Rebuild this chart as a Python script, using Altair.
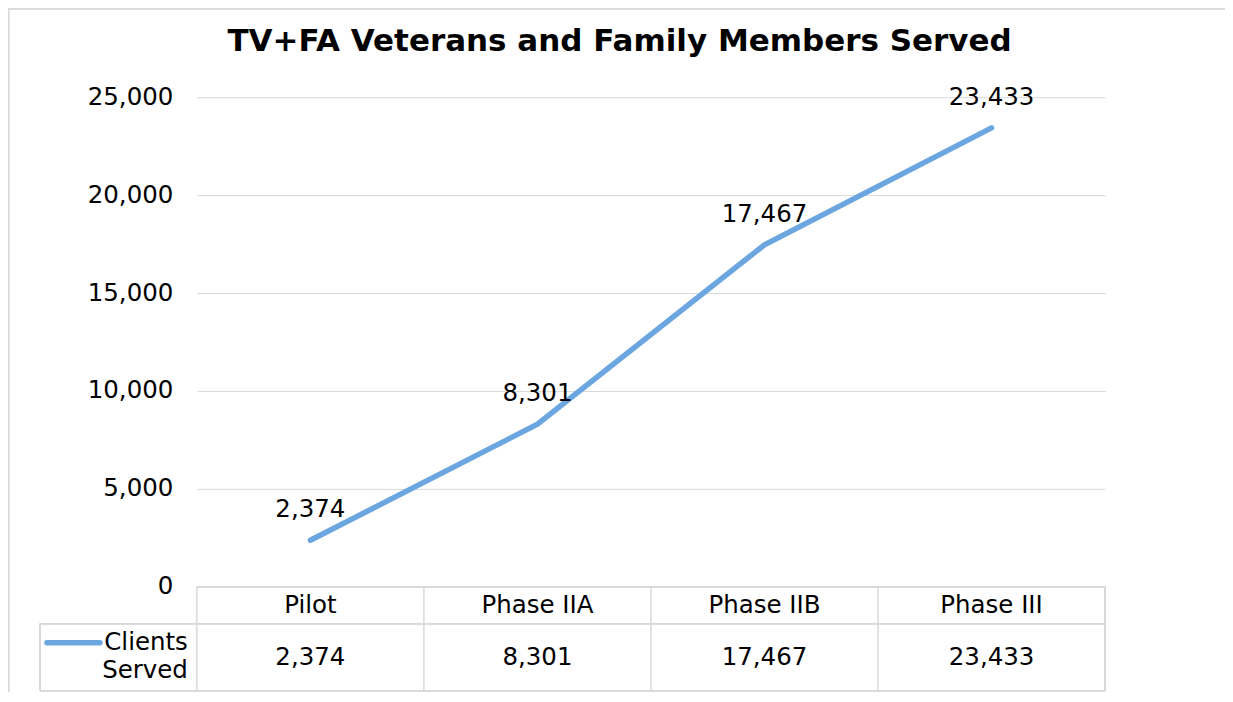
import altair as alt
import pandas as pd

phases = ["Pilot", "Phase IIA", "Phase IIB", "Phase III"]
clients = [2374, 8301, 17467, 23433]
series_name = "Clients Served"
title_text = "TV+FA Veterans and Family Members Served"

df = pd.DataFrame({"phase": phases, "clients": clients})
df["label"] = df["clients"].map(lambda v: f"{v:,}")

FONT = "DejaVu Sans"
FS = 24.5
LINE = "#6ca6e0"
GRID = "#d9d9d9"
W, H = 909, 490

xenc = alt.X("phase:N", sort=phases, axis=None,
             scale=alt.Scale(type="band", paddingInner=0, paddingOuter=0))
yscale = alt.Scale(domain=[0, 25000], nice=False)

base = alt.Chart(df)

line = base.mark_line(color=LINE, strokeWidth=5.5, strokeCap="round", clip=False).encode(
    x=xenc,
    y=alt.Y("clients:Q", scale=yscale, title=None,
            axis=alt.Axis(values=[0, 5000, 10000, 15000, 20000, 25000], format=",.0f",
                          grid=True, gridColor=GRID, gridWidth=1, domain=False,
                          ticks=False, labelPadding=24, labelFontSize=FS,
                          labelFont=FONT, labelColor="#000000")),
)

labels = base.mark_text(font=FONT, fontSize=FS, color="#000000", baseline="alphabetic",
                        dy=-23).encode(x=xenc, y=alt.Y("clients:Q", scale=yscale), text="label:N")

# table: header and values
header = base.mark_text(font=FONT, fontSize=FS, color="#000000", baseline="middle").encode(
    x=xenc, y=alt.value(H + 19), text="phase:N")
values = base.mark_text(font=FONT, fontSize=FS, color="#000000", baseline="middle").encode(
    x=xenc, y=alt.value(H + 71), text="label:N")

# table lines
vlines = base.mark_rule(color=GRID, strokeWidth=1.5).encode(
    x=alt.X("phase:N", sort=phases, axis=None, bandPosition=0,
            scale=alt.Scale(type="band", paddingInner=0, paddingOuter=0)),
    y=alt.value(H), y2=alt.value(H + 104))
rules = []
rules.append(alt.Chart(df).mark_rule(color=GRID, strokeWidth=1.5).encode(
    x=alt.value(W), y=alt.value(H), y2=alt.value(H + 104)))
rules.append(alt.Chart(df).mark_rule(color=GRID, strokeWidth=1.5).encode(
    x=alt.value(-157), y=alt.value(H + 37), y2=alt.value(H + 104)))
rules.append(alt.Chart(df).mark_rule(color=GRID, strokeWidth=1.5).encode(
    x=alt.value(-157), x2=alt.value(W), y=alt.value(H + 37)))
rules.append(alt.Chart(df).mark_rule(color=GRID, strokeWidth=1.5).encode(
    x=alt.value(-157), x2=alt.value(W), y=alt.value(H + 104)))
rules.append(alt.Chart(df).mark_rule(color=GRID, strokeWidth=1.5).encode(
    x=alt.value(0), x2=alt.value(W), y=alt.value(H)))
# outer chart border (left and top)
rules.append(alt.Chart(df).mark_rule(color=GRID, strokeWidth=1.5).encode(
    x=alt.value(-188.5), y=alt.value(-88.5), y2=alt.value(H + 120)))
rules.append(alt.Chart(df).mark_rule(color=GRID, strokeWidth=1.5).encode(
    x=alt.value(-188.5), x2=alt.value(W + 140), y=alt.value(-88.5)))

legend_df = pd.DataFrame({"name": [series_name]})
legend_line = alt.Chart(legend_df).mark_rule(color=LINE, strokeWidth=5.5, strokeCap="round").encode(
    x=alt.value(-150), x2=alt.value(-97), y=alt.value(H + 56))
legend_text = alt.Chart(legend_df).mark_text(font=FONT, fontSize=FS, color="#000000",
                                              align="right", baseline="middle",
                                              lineBreak=" ", lineHeight=28).encode(
    x=alt.value(-9), y=alt.value(H + 56), text="name:N")

title_df = pd.DataFrame({"t": [title_text]})
title = alt.Chart(title_df).mark_text(font=FONT, fontSize=31, fontWeight="bold", color="#000000",
                                      align="center", baseline="middle").encode(
    x=alt.value(423), y=alt.value(-55), text="t:N")

chart = alt.layer(
    line, labels, header, values, vlines, *rules, legend_line, legend_text, title
).properties(
    width=W, height=H,
    background="white",
    autosize=alt.AutoSizeParams(type="none"),
    padding={"left": 189, "top": 89, "right": 120, "bottom": 105},
).configure_view(stroke="transparent", strokeWidth=0)

chart.save("out.html", embed_options={"renderer": "svg", "actions": False})
